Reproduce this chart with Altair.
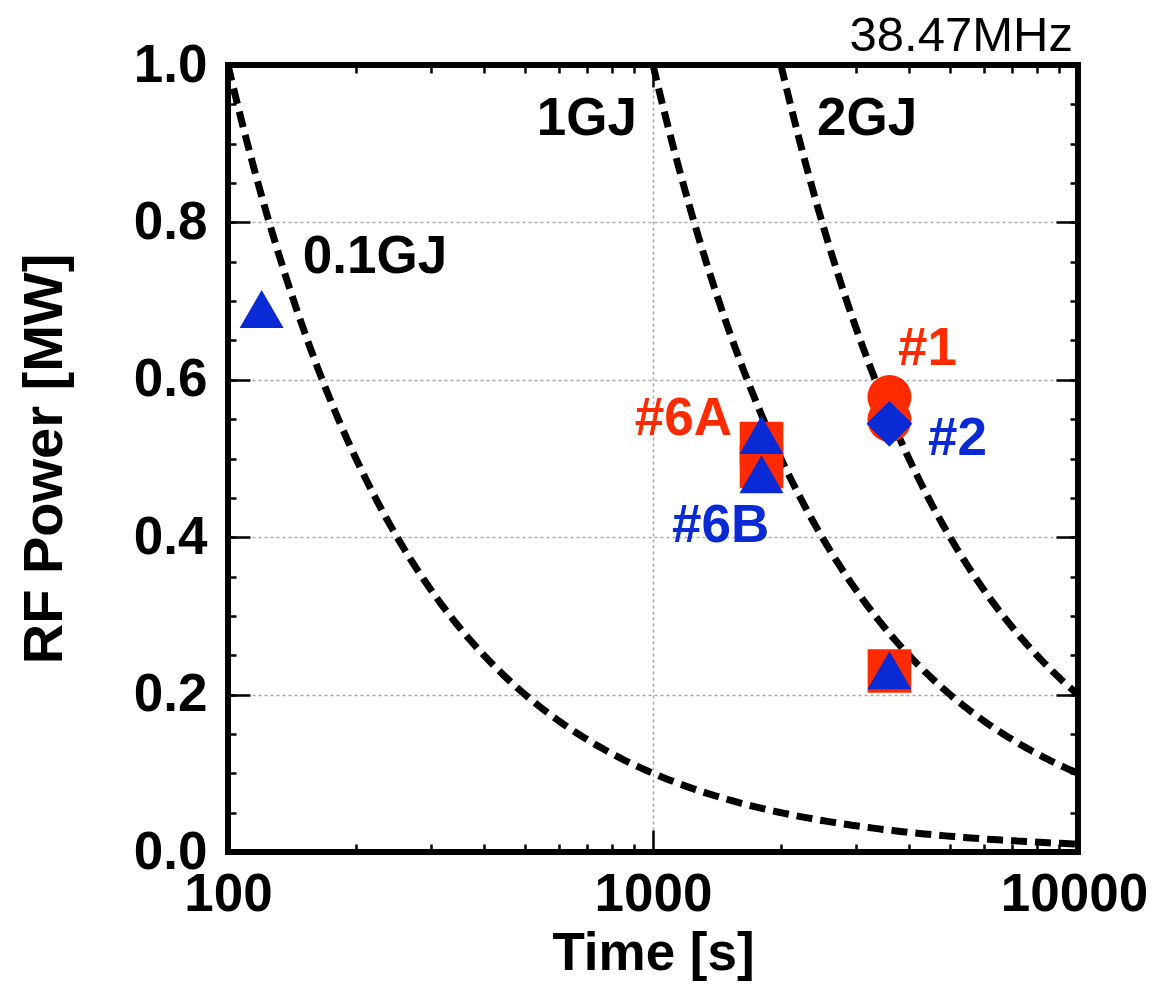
import altair as alt
import numpy as np
import pandas as pd

W, H = 850, 787
FONT = "Liberation Sans"
RED = "#FF2A00"
BLUE = "#0A2AD6"

# iso-energy lines: P [MW] = E [MJ] / t [s]
curve_names = ["0.1GJ", "1GJ", "2GJ"]
curve_energy_mj = [100, 1000, 2000]

# measured points (time [s], RF power [MW])
tri_t = [120, 1800, 1800, 3600]
tri_p = [0.69, 0.530, 0.480, 0.231]
sq_t = [1800, 1800, 3600]
sq_p = [0.519, 0.490, 0.230]
circ_t = [3600, 3600]
circ_p = [0.578, 0.549]
dia_t = [3600]
dia_p = [0.544]

# annotations
lab_text = ["0.1GJ", "1GJ", "2GJ", "#1", "#2", "#6B"]
lab_t = [150, 533, 2432, 3772, 4436, 1108]
lab_p = [0.736, 0.911, 0.911, 0.619, 0.504, 0.394]
lab_color = ["black", "black", "black", RED, BLUE, BLUE]
labr_text = ["#6A"]
labr_t = [1534]
labr_p = [0.530]
labr_color = [RED]
freq_text = ["38.47MHz"]
freq_t = [9730]
freq_p = [1.0178]

x_major = [100, 1000, 10000]
x_minor = [200, 300, 400, 500, 600, 700, 800, 900,
           2000, 3000, 4000, 5000, 6000, 7000, 8000, 9000]
y_major = [0.0, 0.2, 0.4, 0.6, 0.8, 1.0]
y_minor = [round(0.05 * k, 2) for k in range(21)]
x_grid = [1000]
y_grid = [0.2, 0.4, 0.6, 0.8]

rows = []
for name, e in zip(curve_names, curve_energy_mj):
    for t in np.geomspace(e, 10000, 200):
        rows.append({"curve": name, "t": float(t), "p": e / float(t)})
curves_df = pd.DataFrame(rows)

tri_df = pd.DataFrame({"t": tri_t, "p": tri_p})
sq_df = pd.DataFrame({"t": sq_t, "p": sq_p})
circ_df = pd.DataFrame({"t": circ_t, "p": circ_p})
dia_df = pd.DataFrame({"t": dia_t, "p": dia_p})
lab_df = pd.DataFrame({"t": lab_t, "p": lab_p, "text": lab_text, "c": lab_color})
labr_df = pd.DataFrame({"t": labr_t, "p": labr_p, "text": labr_text, "c": labr_color})
freq_df = pd.DataFrame({"t": freq_t, "p": freq_p, "text": freq_text})

XS = alt.Scale(type="log", domain=[100, 10000])
YS = alt.Scale(domain=[0, 1])

xlab_style = dict(format="d", tickSize=0, domain=False, grid=False,
                  labelFont=FONT, labelFontSize=53, labelFontWeight="bold", labelColor="black",
                  labelPadding=16, labelOverlap=False, labelFlush=False)

x_main = alt.Axis(orient="bottom", values=x_major[:2], **xlab_style,
                  title="Time [s]", titleFont=FONT, titleFontSize=53, titleFontWeight="bold",
                  titleColor="black", titlePadding=6)
x_last = alt.Axis(orient="bottom", values=x_major[2:], **xlab_style, labelOffset=-4, title=None)
y_main = alt.Axis(orient="left", values=y_major, format=".1f", tickSize=0, domain=False,
                  labelFont=FONT, labelFontSize=53, labelFontWeight="bold", labelColor="black",
                  labelPadding=21, labelOverlap=False, labelFlush=False,
                  title="RF Power [MW]", titleFont=FONT, titleFontSize=56, titleFontWeight="bold",
                  titleColor="black", titlePadding=60, grid=False)

curves = alt.Chart(curves_df).mark_line(color="black", strokeWidth=7, strokeDash=[16, 8], clip=True).encode(
    x=alt.X("t:Q", scale=XS, axis=x_main),
    y=alt.Y("p:Q", scale=YS, axis=y_main),
    detail="curve:N",
)

last_label = alt.Chart(tri_df).mark_point(opacity=0).encode(
    x=alt.X("t:Q", scale=XS, axis=x_last),
    y=alt.Y("p:Q", scale=YS, axis=None),
)

grid_common = dict(domain=False, labels=False, ticks=False, title=None, grid=True,
                   gridColor="#a8a8a8", gridDash=[3, 3], gridWidth=1.5)
grid = alt.Chart(tri_df).mark_point(opacity=0).encode(
    x=alt.X("t:Q", scale=XS, axis=alt.Axis(orient="bottom", values=x_grid, **grid_common)),
    y=alt.Y("p:Q", scale=YS, axis=alt.Axis(orient="left", values=y_grid, **grid_common)),
)

tick_common = dict(domain=False, labels=False, title=None, grid=False,
                   tickColor="black", tickWidth=2.5)


def tick_layer(xorient, yorient, xvals, yvals, size):
    return alt.Chart(tri_df).mark_point(opacity=0).encode(
        x=alt.X("t:Q", scale=XS, axis=alt.Axis(orient=xorient, offset=-H, values=xvals,
                                               tickSize=size, **tick_common)),
        y=alt.Y("p:Q", scale=YS, axis=alt.Axis(orient=yorient, offset=-W, values=yvals,
                                               tickSize=size, **tick_common)),
    )


ticks = [
    tick_layer("top", "right", x_major, y_major, 22),
    tick_layer("top", "right", x_minor, y_minor, 8),
    tick_layer("bottom", "left", x_major, y_major, 22),
    tick_layer("bottom", "left", x_minor, y_minor, 8),
]


def pts(df, shape, color, size):
    return alt.Chart(df).mark_point(shape=shape, filled=True, color=color, opacity=1,
                                    size=size, strokeWidth=0).encode(
        x=alt.X("t:Q", scale=XS, axis=None),
        y=alt.Y("p:Q", scale=YS, axis=None),
    )


squares = pts(sq_df, "square", RED, 1900)
circles = pts(circ_df, "circle", RED, 1936)
triangles = pts(tri_df, "triangle-up", BLUE, 1936)
diamonds = pts(dia_df, "diamond", BLUE, 2100)

labels_l = alt.Chart(lab_df).mark_text(font=FONT, fontSize=53, fontWeight="bold", align="left",
                                       baseline="alphabetic").encode(
    x=alt.X("t:Q", scale=XS, axis=None),
    y=alt.Y("p:Q", scale=YS, axis=None),
    text="text:N",
    color=alt.Color("c:N", scale=None),
)
labels_r = alt.Chart(labr_df).mark_text(font=FONT, fontSize=53, fontWeight="bold", align="right",
                                        baseline="alphabetic").encode(
    x=alt.X("t:Q", scale=XS, axis=None),
    y=alt.Y("p:Q", scale=YS, axis=None),
    text="text:N",
    color=alt.Color("c:N", scale=None),
)
freq = alt.Chart(freq_df).mark_text(font=FONT, fontSize=49, fontWeight="normal", align="right",
                                    baseline="alphabetic", color="black").encode(
    x=alt.X("t:Q", scale=XS, axis=None),
    y=alt.Y("p:Q", scale=YS, axis=None),
    text="text:N",
)

chart = alt.layer(
    grid, curves, last_label, *ticks, squares, circles, triangles, diamonds,
    labels_l, labels_r, freq
).resolve_axis(x="independent", y="independent").properties(
    width=W, height=H,
    autosize=alt.AutoSizeParams(type="none"),
    padding={"left": 220, "top": 57, "right": 72, "bottom": 129},
    background="white",
).configure_view(stroke="black", strokeWidth=6)

chart.save("out.html", embed_options={"renderer": "svg", "actions": False})
